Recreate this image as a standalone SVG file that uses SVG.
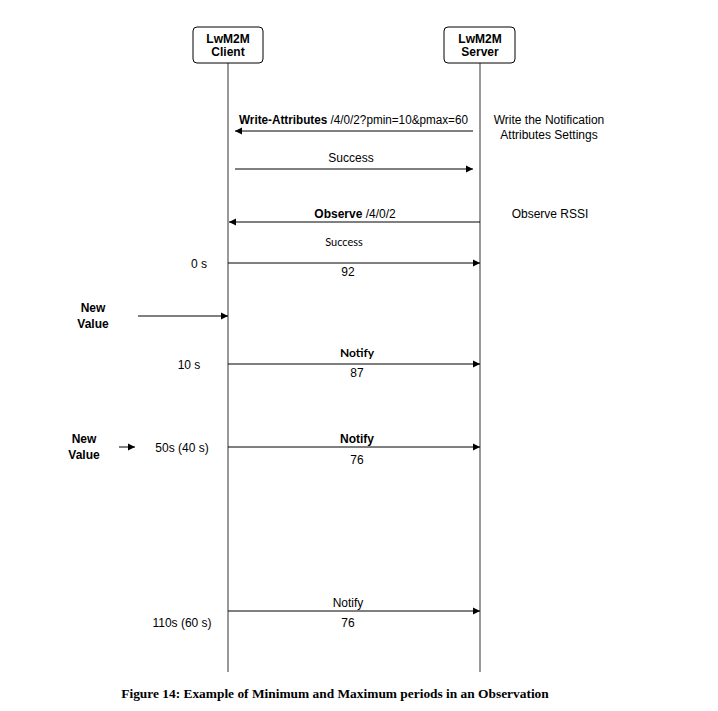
<svg xmlns="http://www.w3.org/2000/svg" width="718" height="711" viewBox="0 0 718 711">
<style>
text{font-family:"Liberation Sans",Arial,sans-serif;font-size:12px;fill:#000}
.b{font-weight:bold}
.m{text-anchor:middle}
.box{fill:#fff;stroke:#000;stroke-width:1}
.life{stroke:#777;stroke-width:1.5;fill:none}
.msg{stroke:#000;stroke-width:1;fill:none;marker-end:url(#ah)}
.cap{font-family:"Liberation Serif","Times New Roman",serif;font-weight:bold;font-size:13.4px}
</style>
<defs>
<marker id="ah" markerWidth="8" markerHeight="8" refX="7" refY="4" orient="auto" markerUnits="userSpaceOnUse">
<path d="M0,0.5 L7,4 L0,7.5 Z" fill="#000"/>
</marker>
</defs>
<rect width="718" height="711" fill="#fff"/>
<g id="client">
<line class="life" x1="228" y1="63" x2="228" y2="672"/>
<rect class="box" x="193" y="27" width="70" height="36" rx="4"/>
<text class="b m" x="228" y="43">LwM2M</text>
<text class="b m" x="228" y="56">Client</text>
</g>
<g id="server">
<line class="life" x1="480" y1="63" x2="480" y2="672"/>
<rect class="box" x="444" y="27" width="71" height="36" rx="4"/>
<text class="b m" x="480" y="43">LwM2M</text>
<text class="b m" x="480" y="56">Server</text>
</g>
<g id="connectors">
<line class="msg" x1="473" y1="131" x2="235" y2="131"/>
<line class="msg" x1="235" y1="169" x2="473" y2="169"/>
<line class="msg" x1="480" y1="222" x2="229" y2="222"/>
<line class="msg" x1="228" y1="263" x2="480" y2="263"/>
<line class="msg" x1="138" y1="316" x2="228" y2="316"/>
<line class="msg" x1="228" y1="364" x2="480" y2="364"/>
<line class="msg" x1="119" y1="447" x2="135" y2="447"/>
<line class="msg" x1="228" y1="447" x2="480" y2="447"/>
<line class="msg" x1="228" y1="611" x2="480" y2="611"/>
</g>
<g id="labels">
<text x="239" y="124" textLength="229" lengthAdjust="spacingAndGlyphs"><tspan class="b">Write-Attributes</tspan> /4/0/2?pmin=10&amp;pmax=60</text>
<text class="m" x="549" y="124">Write the Notification</text>
<text class="m" x="549" y="139">Attributes Settings</text>
<text class="m" x="351" y="162">Success</text>
<text class="m" x="355" y="218"><tspan class="b">Observe</tspan> /4/0/2</text>
<text class="m" x="550" y="218">Observe RSSI</text>
<text class="m" x="344" y="246" style="font-family:Lato,sans-serif;font-size:11px">Success</text>
<text class="m" x="199" y="268">0 s</text>
<text class="m" x="348" y="276">92</text>
<text class="b m" x="93" y="312">New</text>
<text class="b m" x="93" y="328">Value</text>
<text class="m" x="189" y="369">10 s</text>
<text class="b m" x="357" y="357" style="font-family:Lato,sans-serif">Notify</text>
<text class="m" x="357" y="377">87</text>
<text class="b m" x="84" y="443">New</text>
<text class="b m" x="84" y="459">Value</text>
<text class="m" x="182" y="452">50s (40 s)</text>
<text class="b m" x="357" y="443">Notify</text>
<text class="m" x="357" y="464">76</text>
<text class="m" x="348" y="607">Notify</text>
<text class="m" x="182" y="627">110s (60 s)</text>
<text class="m" x="348" y="627">76</text>
<text class="cap m" x="335" y="698">Figure 14: Example of Minimum and Maximum periods in an Observation</text>
</g>
</svg>
